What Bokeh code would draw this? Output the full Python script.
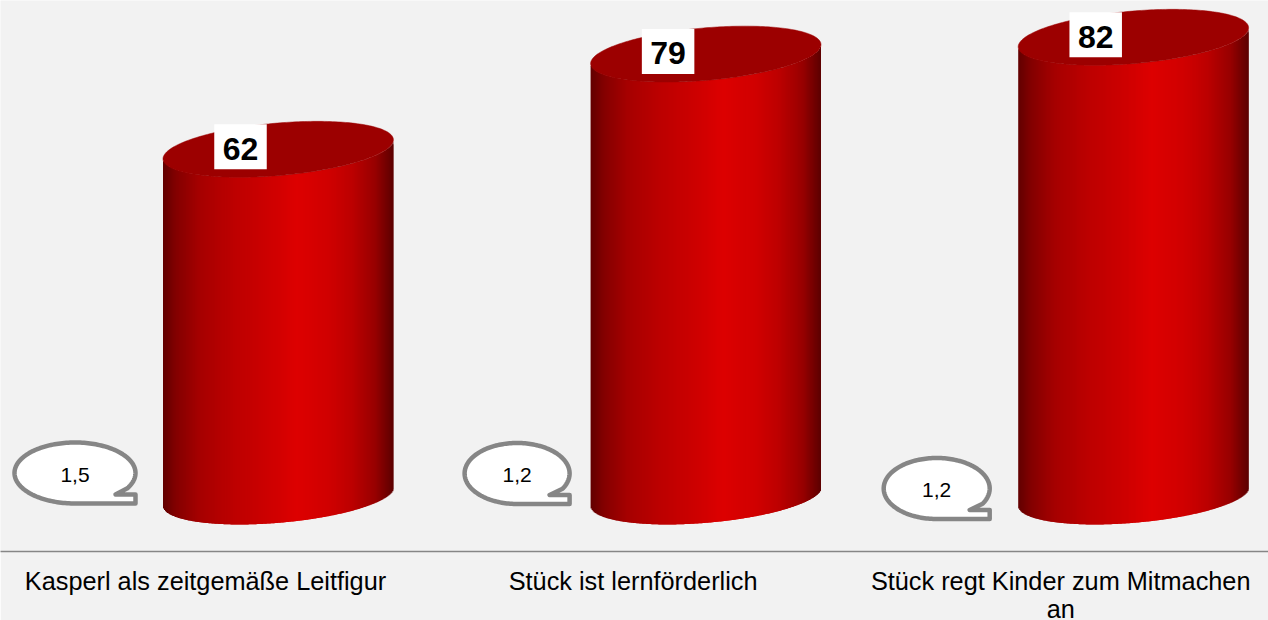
import numpy as np
from bokeh.core.properties import value
from bokeh.embed import file_html
from bokeh.models import ColumnDataSource, FixedTicker, Range1d
from bokeh.plotting import figure
from bokeh.resources import INLINE

categories = ["Kasperl als zeitgemäße Leitfigur", "Stück ist lernförderlich",
              "Stück regt Kinder zum Mitmachen\nan"]
scores = [62, 79, 82]
score_labels = ["62", "79", "82"]
callouts = ["1,5", "1,2", "1,2"]

# ---- layout / style ----
W, H = 1268, 620
FRAME_H = 551
PX_X = 427.6             # pixels per category
PX_Y = 5.6               # pixels per score point
BASE_PX = 496            # pixel row of score 0
X0_PX = 205              # pixel column of the first category
BG = "#f2f2f2"
GREY = "#868686"
RIM = "#9c0000"
RED_STOPS = [(0, (0x62, 0, 0)), (.06, (0x85, 0, 0)), (.16, (0xa6, 0, 0)), (.3, (0xbc, 0, 0)),
             (.45, (0xcc, 0, 0)), (.58, (0xdd, 0, 0)), (.72, (0xd0, 0, 0)), (.82, (0xbc, 0, 0)),
             (.92, (0x98, 0, 0)), (1, (0x5c, 0, 0))]
CYL_SHIFT = 72.7 / PX_X  # 3D offset of cylinder from its category
CYL_A = 115.2 / PX_X     # half width
TILT = 9.5 / PX_Y
CYL_B = 26.3 / PX_Y
LABEL_DX = -37.7 / PX_X
LABEL_TEXT_DY = 0.7
CALL_DX = [-130.5, -116, -124]      # callout centre offset from category, px
CALL_DY = [23.5, 23, 8]             # callout centre above score 0, px
CALL_A = [60.5, 52.5, 53]
CALL_B = 30.5
CALL_TEXT_DY = -1.5

p = figure(width=W, height=H, frame_width=W, frame_height=FRAME_H,
           output_backend="svg", toolbar_location=None,
           x_range=Range1d(-X0_PX / PX_X, (W - X0_PX) / PX_X),
           y_range=Range1d(-(FRAME_H - BASE_PX) / PX_Y, BASE_PX / PX_Y),
           y_axis_location=None, min_border=0,
           background_fill_color=BG, border_fill_color=BG, outline_line_color=None)
p.styles = {"position": "absolute", "left": "0", "top": "0"}
p.grid.visible = False

ax = p.xaxis[0]
ax.ticker = FixedTicker(ticks=list(range(len(categories))))
ax.major_label_overrides = {i: c for i, c in enumerate(categories)}
ax.major_label_text_font = "Liberation Sans"
ax.major_label_text_font_size = "25.3px"
ax.major_label_text_line_height = 1.02
ax.major_label_text_color = "#000000"
ax.major_label_standoff = 9
ax.major_tick_line_color = None
ax.minor_tick_line_color = None
ax.axis_line_color = GREY
ax.axis_line_width = 1.6


def red(u):
    pos = [s[0] for s in RED_STOPS]
    return "#%02x%02x%02x" % tuple(int(round(np.interp(u, pos, [s[1][i] for s in RED_STOPS]))) for i in range(3))


left, right, bottom, top, color = [], [], [], [], []
rim_xs, rim_ys = [], []
for i, v in enumerate(scores):
    cx = i + CYL_SHIFT
    n = int(round(2 * CYL_A * PX_X))
    edges = np.linspace(-1, 1, n + 1)
    mid = (edges[:-1] + edges[1:]) / 2
    arc = TILT * mid - CYL_B * np.sqrt(1 - mid ** 2)
    over = np.r_[np.full(n - 1, 1.0), 0.0] / PX_X
    left += list(cx + edges[:-1] * CYL_A)
    right += list(cx + edges[1:] * CYL_A + over)
    bottom += list(arc)
    top += list(v + arc)
    color += [red((m + 1) / 2) for m in mid]
    t = np.linspace(0, 2 * np.pi, 240)
    rim_xs.append(cx + CYL_A * np.cos(t))
    rim_ys.append(v + TILT * np.cos(t) + CYL_B * np.sin(t))

p.quad(left="l", right="r", bottom="b", top="t", fill_color="c", line_color=None,
       source=ColumnDataSource(dict(l=left, r=right, b=bottom, t=top, c=color)))
p.patches(rim_xs, rim_ys, fill_color=RIM, line_color=RIM, line_width=0.5)

# value labels
lx = [i + CYL_SHIFT + LABEL_DX for i in range(len(scores))]
p.rect(lx, [v + 2.5 / PX_Y for v in scores], width=52.5, height=45, width_units="screen", height_units="screen",
       fill_color="white", line_color=None)
p.text(lx, [v + LABEL_TEXT_DY / PX_Y for v in scores], text=score_labels, text_align="center", text_baseline="middle",
       text_font=value("Liberation Sans"), text_font_style="bold", text_font_size="32px", text_color="black")

# callouts
for i, label in enumerate(callouts):
    a, b = CALL_A[i], CALL_B
    ang = np.linspace(-90, -390, 160)                        # bottom -> left -> top -> right
    px = a * np.cos(np.radians(ang))
    py = b * np.sin(np.radians(ang))
    px = np.r_[px, a - 20, a, a, 0]
    py = np.r_[py, -b + 9, -b + 9, -b, -b]
    xs = i + (CALL_DX[i] + px) / PX_X
    ys = (CALL_DY[i] + py) / PX_Y
    p.patch(xs, ys, fill_color="white", line_color=GREY, line_width=4.5, line_join="round")
    p.text([i + CALL_DX[i] / PX_X], [(CALL_DY[i] + CALL_TEXT_DY) / PX_Y], text=[label],
           text_align="center", text_baseline="middle",
           text_font=value("Liberation Sans"), text_font_size="21px", text_color="black")

open("out.html", "w").write(file_html(p, INLINE))
